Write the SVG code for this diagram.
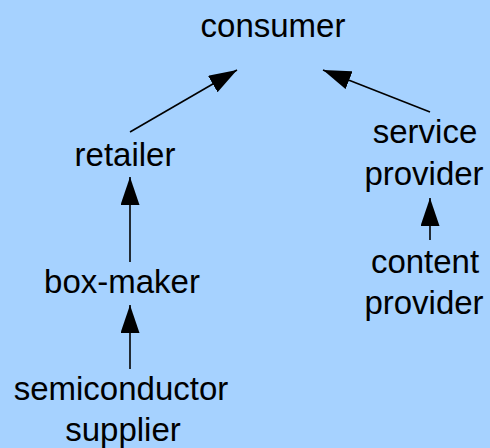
<svg xmlns="http://www.w3.org/2000/svg" width="490" height="448" viewBox="0 0 490 448">
<style>
text{font-family:"Liberation Sans",Arial,sans-serif;font-size:33px;fill:#000;text-anchor:middle}
.c{stroke:#000;stroke-width:1.6;fill:none;marker-end:url(#ah)}
</style>
<defs>
<marker id="ah" markerUnits="userSpaceOnUse" markerWidth="29" markerHeight="19" refX="28" refY="9.5" orient="auto" viewBox="0 0 29 19">
<path d="M0,0 L28,9.5 L0,19 z" fill="#000"/>
</marker>
</defs>
<rect width="490" height="448" fill="#a6d2ff"/>
<g id="connectors">
<line class="c" x1="130" y1="132" x2="237" y2="70"/>
<line class="c" x1="430" y1="112" x2="323" y2="70"/>
<line class="c" x1="130" y1="262" x2="130" y2="177"/>
<line class="c" x1="130" y1="369" x2="130" y2="305"/>
<line class="c" x1="430" y1="240" x2="430" y2="198"/>
</g>
<g id="consumer"><text x="273" y="37">consumer</text></g>
<g id="retailer"><text x="125" y="166">retailer</text></g>
<g id="box-maker"><text x="122" y="293">box-maker</text></g>
<g id="semiconductor-supplier"><text x="121" y="400">semiconductor</text><text x="123" y="441">supplier</text></g>
<g id="service-provider"><text x="425" y="143">service</text><text x="424" y="185">provider</text></g>
<g id="content-provider"><text x="425" y="273">content</text><text x="424" y="314">provider</text></g>
</svg>
